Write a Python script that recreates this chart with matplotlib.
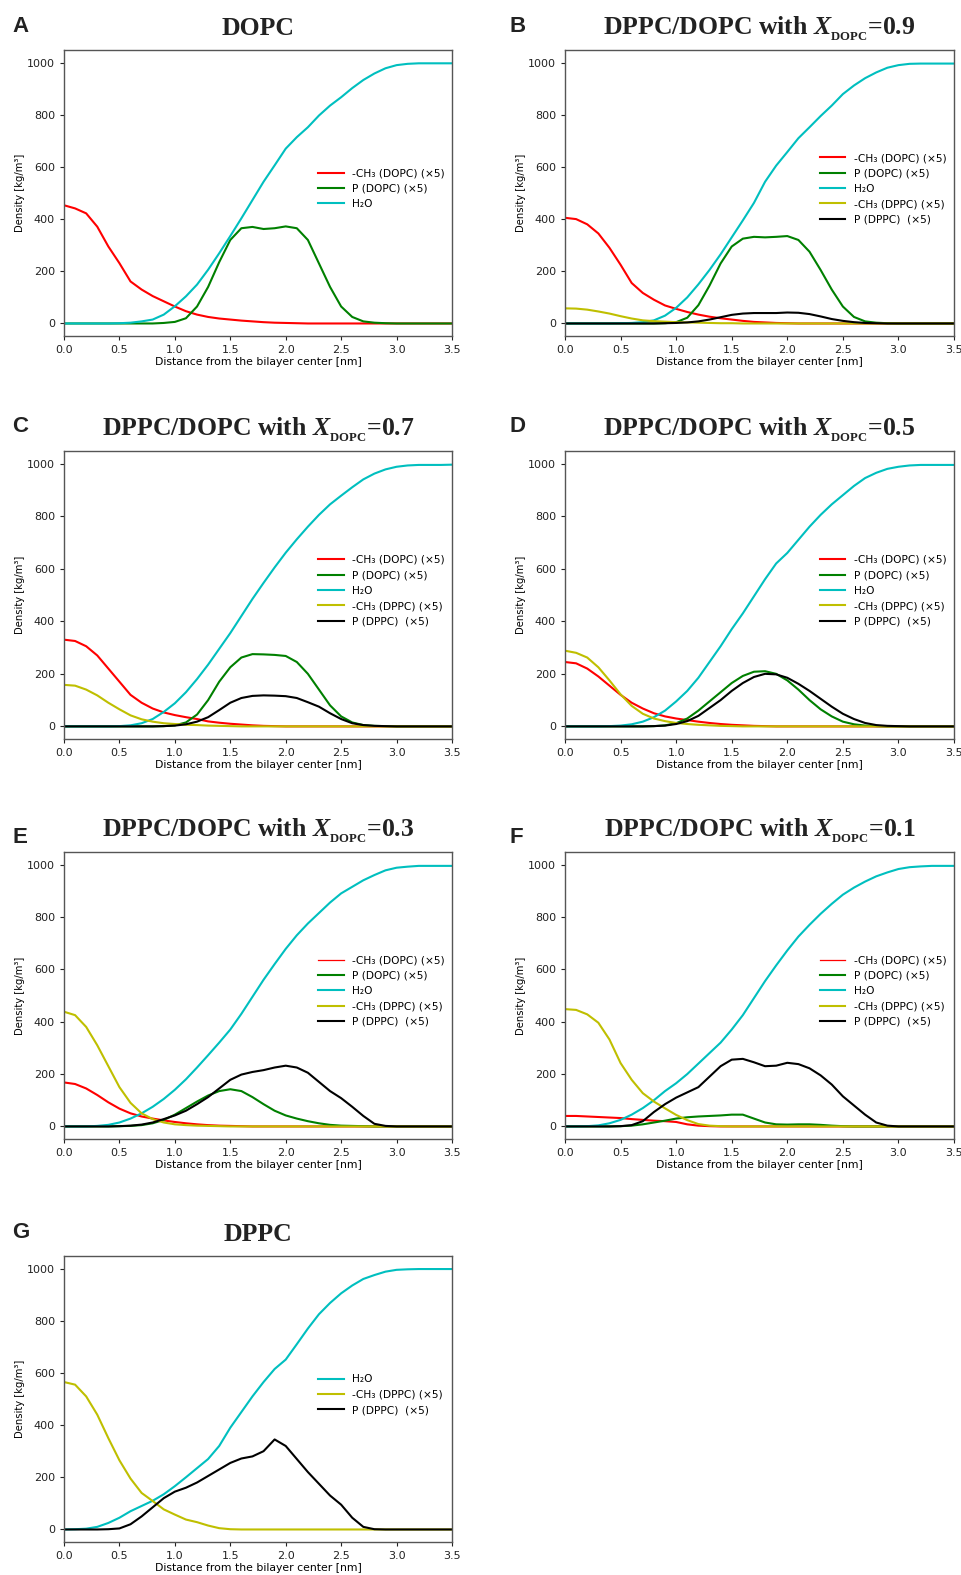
import matplotlib
matplotlib.use("Agg")
import matplotlib.pyplot as plt

plt.rcParams["mathtext.fontset"] = "custom"
plt.rcParams["mathtext.rm"] = "Liberation Serif:bold"
plt.rcParams["mathtext.it"] = "Liberation Serif:bold:italic"
plt.rcParams["mathtext.bf"] = "Liberation Serif:bold"

# distance from the bilayer centre [nm], shared sample grid
DIST = [0.0, 0.1, 0.2, 0.3, 0.4, 0.5, 0.6, 0.7, 0.8, 0.9,
        1.0, 1.1, 1.2, 1.3, 1.4, 1.5, 1.6, 1.7, 1.8, 1.9,
        2.0, 2.1, 2.2, 2.3, 2.4, 2.5, 2.6, 2.7, 2.8, 2.9,
        3.0, 3.1, 3.2, 3.3, 3.4, 3.5]

# ---- A: DOPC
A_ch3_dopc = [453, 441, 422, 371, 295, 231, 161, 130, 105, 85, 65, 47, 34, 25, 19, 15, 11, 8, 5, 3,
              2, 1, 0, 0, 0, 0, 0, 0, 0, 0, 0, 0, 0, 0, 0, 0]
A_p_dopc = [0, 0, 0, 0, 0, 0, 0, 0, 0, 2, 6, 20, 65, 140, 235, 320, 365, 370, 362, 365,
            372, 365, 320, 230, 140, 65, 25, 8, 3, 1, 0, 0, 0, 0, 0, 0]
A_h2o = [0, 0, 0, 0, 0, 1, 3, 8, 15, 34, 66, 104, 149, 206, 269, 335, 403, 473, 543, 606,
         670, 714, 752, 797, 835, 867, 902, 933, 958, 978, 990, 995, 997, 997, 997, 997]

# ---- B: X_DOPC = 0.9
B_ch3_dopc = [405, 400, 380, 345, 290, 225, 155, 117, 91, 69, 56, 44, 34, 26, 20, 15, 10, 6, 4, 2,
              1, 0, 0, 0, 0, 0, 0, 0, 0, 0, 0, 0, 0, 0, 0, 0]
B_p_dopc = [0, 0, 0, 0, 0, 0, 0, 0, 0, 1, 5, 22, 70, 145, 230, 295, 325, 332, 330, 332,
            335, 320, 275, 205, 130, 65, 25, 8, 3, 1, 0, 0, 0, 0, 0, 0]
B_h2o = [0, 0, 0, 0, 0, 1, 2, 5, 12, 30, 60, 100, 150, 205, 265, 330, 395, 462, 543, 605,
         657, 710, 752, 795, 835, 879, 912, 940, 962, 980, 990, 995, 996, 996, 996, 996]
B_ch3_dppc = [58, 57, 53, 46, 38, 28, 19, 12, 9, 7, 5, 4, 3, 2, 1, 1, 0, 0, 0, 0,
              0, 0, 0, 0, 0, 0, 0, 0, 0, 0, 0, 0, 0, 0, 0, 0]
B_p_dppc = [0, 0, 0, 0, 0, 0, 0, 0, 0, 1, 2, 4, 8, 15, 24, 33, 38, 40, 40, 40,
            42, 41, 36, 27, 17, 10, 5, 2, 1, 0, 0, 0, 0, 0, 0, 0]

# ---- C: X_DOPC = 0.7
C_ch3_dopc = [330, 325, 305, 270, 220, 170, 120, 90, 68, 53, 43, 35, 28, 19, 14, 10, 7, 4, 2, 1,
              0, 0, 0, 0, 0, 0, 0, 0, 0, 0, 0, 0, 0, 0, 0, 0]
C_p_dopc = [0, 0, 0, 0, 0, 0, 0, 0, 0, 1, 4, 15, 45, 100, 170, 225, 262, 275, 274, 272,
            268, 245, 200, 140, 80, 38, 15, 5, 2, 1, 0, 0, 0, 0, 0, 0]
C_h2o = [0, 0, 0, 0, 0, 1, 4, 12, 28, 55, 88, 130, 180, 235, 295, 355, 420, 485, 546, 605,
         661, 712, 760, 805, 845, 878, 910, 940, 962, 978, 988, 993, 995, 995, 995, 996]
C_ch3_dppc = [158, 155, 140, 118, 90, 65, 42, 27, 18, 12, 9, 6, 5, 3, 2, 1, 0, 0, 0, 0,
              0, 0, 0, 0, 0, 0, 0, 0, 0, 0, 0, 0, 0, 0, 0, 0]
C_p_dppc = [0, 0, 0, 0, 0, 0, 0, 0, 0, 1, 3, 8, 18, 35, 62, 90, 108, 116, 118, 117,
            115, 108, 92, 75, 50, 28, 12, 5, 2, 1, 0, 0, 0, 0, 0, 0]

# ---- D: X_DOPC = 0.5
D_ch3_dopc = [245, 240, 220, 190, 155, 120, 90, 68, 50, 38, 30, 24, 18, 13, 9, 6, 4, 2, 1, 0,
              0, 0, 0, 0, 0, 0, 0, 0, 0, 0, 0, 0, 0, 0, 0, 0]
D_p_dopc = [0, 0, 0, 0, 0, 0, 0, 0, 1, 4, 12, 30, 60, 95, 130, 165, 192, 208, 210, 200,
            175, 140, 100, 65, 38, 18, 8, 3, 1, 0, 0, 0, 0, 0, 0, 0]
D_h2o = [0, 0, 0, 0, 1, 3, 8, 18, 35, 60, 95, 135, 185, 245, 305, 370, 430, 495, 560, 620,
         660, 710, 760, 805, 845, 880, 915, 945, 965, 980, 988, 993, 995, 995, 995, 995]
D_ch3_dppc = [288, 280, 262, 225, 175, 122, 78, 48, 30, 20, 13, 9, 6, 4, 2, 1, 0, 0, 0, 0,
              0, 0, 0, 0, 0, 0, 0, 0, 0, 0, 0, 0, 0, 0, 0, 0]
D_p_dppc = [0, 0, 0, 0, 0, 0, 0, 0, 1, 3, 9, 20, 40, 70, 100, 135, 165, 188, 200, 198,
            185, 162, 135, 105, 75, 48, 28, 13, 5, 2, 1, 0, 0, 0, 0, 0]

# ---- E: X_DOPC = 0.3
E_ch3_dopc = [168, 162, 145, 120, 92, 68, 50, 38, 30, 23, 17, 12, 8, 5, 3, 2, 1, 0, 0, 0,
              0, 0, 0, 0, 0, 0, 0, 0, 0, 0, 0, 0, 0, 0, 0, 0]
E_p_dopc = [0, 0, 0, 0, 0, 1, 2, 5, 12, 25, 45, 70, 95, 118, 135, 142, 135, 112, 85, 60,
            42, 30, 20, 12, 6, 3, 2, 1, 0, 0, 0, 0, 0, 0, 0, 0]
E_h2o = [0, 0, 0, 2, 6, 15, 30, 50, 75, 105, 140, 180, 225, 272, 320, 370, 430, 495, 560, 620,
         678, 730, 775, 815, 855, 890, 915, 940, 960, 978, 988, 992, 995, 995, 995, 995]
E_ch3_dppc = [438, 425, 380, 310, 230, 150, 90, 50, 28, 15, 8, 5, 3, 2, 1, 0, 0, 0, 0, 0,
              0, 0, 0, 0, 0, 0, 0, 0, 0, 0, 0, 0, 0, 0, 0, 0]
E_p_dppc = [0, 0, 0, 0, 0, 1, 3, 7, 15, 28, 42, 60, 85, 112, 145, 178, 198, 208, 215, 225,
            232, 225, 205, 170, 135, 108, 75, 40, 10, 2, 0, 0, 0, 0, 0, 0]

# ---- F: X_DOPC = 0.1
F_ch3_dopc = [40, 40, 38, 36, 34, 32, 28, 25, 22, 20, 17, 8, 3, 1, 0, 0, 0, 0, 0, 0,
              0, 0, 0, 0, 0, 0, 0, 0, 0, 0, 0, 0, 0, 0, 0, 0]
F_p_dopc = [0, 0, 0, 0, 0, 1, 3, 8, 15, 22, 30, 35, 38, 40, 42, 45, 45, 30, 15, 8,
            7, 8, 8, 6, 3, 1, 0, 0, 0, 0, 0, 0, 0, 0, 0, 0]
F_h2o = [0, 0, 1, 4, 12, 25, 45, 70, 100, 135, 165, 200, 240, 280, 320, 370, 425, 490, 555, 615,
         672, 725, 770, 812, 850, 885, 912, 935, 955, 970, 983, 990, 993, 995, 995, 995]
F_ch3_dppc = [448, 445, 428, 396, 332, 242, 178, 127, 95, 69, 44, 24, 9, 3, 1, 0, 0, 0, 0, 0,
              0, 0, 0, 0, 0, 0, 0, 0, 0, 0, 0, 0, 0, 0, 0, 0]
F_p_dppc = [0, 0, 0, 0, 0, 1, 5, 20, 55, 85, 110, 130, 150, 190, 230, 255, 258, 245, 230, 232,
            243, 238, 222, 195, 160, 115, 80, 45, 15, 3, 0, 0, 0, 0, 0, 0]

# ---- G: DPPC
G_h2o = [0, 1, 3, 10, 25, 45, 70, 90, 110, 135, 166, 200, 235, 270, 320, 390, 450, 510, 565, 615,
         651, 710, 770, 825, 868, 905, 935, 960, 975, 988, 995, 997, 998, 998, 998, 998]
G_ch3_dppc = [565, 555, 510, 440, 350, 265, 195, 140, 109, 77, 57, 38, 28, 15, 5, 1, 0, 0, 0, 0,
              0, 0, 0, 0, 0, 0, 0, 0, 0, 0, 0, 0, 0, 0, 0, 0]
G_p_dppc = [0, 0, 0, 0, 1, 4, 20, 50, 85, 120, 145, 160, 180, 205, 230, 255, 272, 280, 300, 345,
            320, 270, 220, 175, 130, 95, 45, 10, 1, 0, 0, 0, 0, 0, 0, 0]

LBL = {
    "ch3_dopc": ("-CH\u2083 (DOPC) (\u00d75)", "r"),
    "p_dopc": ("P (DOPC) (\u00d75)", "g"),
    "h2o": ("H\u2082O", "c"),
    "ch3_dppc": ("-CH\u2083 (DPPC) (\u00d75)", "y"),
    "p_dppc": ("P (DPPC)  (\u00d75)", "k"),
}

MIX = r"DPPC/DOPC with $X_{{}_{\mathrm{DOPC}}}$="

panels = [
    ("A", "DOPC", {"ch3_dopc": A_ch3_dopc, "p_dopc": A_p_dopc, "h2o": A_h2o}),
    ("B", MIX + "0.9",
     {"ch3_dopc": B_ch3_dopc, "p_dopc": B_p_dopc, "h2o": B_h2o, "ch3_dppc": B_ch3_dppc, "p_dppc": B_p_dppc}),
    ("C", MIX + "0.7",
     {"ch3_dopc": C_ch3_dopc, "p_dopc": C_p_dopc, "h2o": C_h2o, "ch3_dppc": C_ch3_dppc, "p_dppc": C_p_dppc}),
    ("D", MIX + "0.5",
     {"ch3_dopc": D_ch3_dopc, "p_dopc": D_p_dopc, "h2o": D_h2o, "ch3_dppc": D_ch3_dppc, "p_dppc": D_p_dppc}),
    ("E", MIX + "0.3",
     {"ch3_dopc": E_ch3_dopc, "p_dopc": E_p_dopc, "h2o": E_h2o, "ch3_dppc": E_ch3_dppc, "p_dppc": E_p_dppc}),
    ("F", MIX + "0.1",
     {"ch3_dopc": F_ch3_dopc, "p_dopc": F_p_dopc, "h2o": F_h2o, "ch3_dppc": F_ch3_dppc, "p_dppc": F_p_dppc}),
    ("G", "DPPC", {"h2o": G_h2o, "ch3_dppc": G_ch3_dppc, "p_dppc": G_p_dppc}),
]

W, H = 962, 1575
fig = plt.figure(figsize=(W / 100, H / 100), dpi=100)

# axes boxes in pixels: (left, top, right, bottom)
boxes = [(64, 50, 452, 336), (565, 50, 954, 336),
         (64, 451, 452, 739), (565, 451, 954, 739),
         (64, 852, 452, 1139), (565, 852, 954, 1139),
         (64, 1256, 452, 1542)]
letter_pos = [(12, 27), (510, 27), (12, 427), (510, 427), (12, 837), (510, 837), (12, 1233)]

for (letter, title, series), (l, t, r, b), (lx, ly) in zip(panels, boxes, letter_pos):
    ax = fig.add_axes([l / W, 1 - b / H, (r - l) / W, (b - t) / H])
    for key, ys in series.items():
        label, col = LBL[key]
        ax.plot(DIST, ys, color=col, lw=1.5, label=label)
    ax.set_xlim(0, 3.5)
    ax.set_ylim(-48, 1048)
    ax.set_xticks([0.0, 0.5, 1.0, 1.5, 2.0, 2.5, 3.0, 3.5])
    ax.set_yticks([0, 200, 400, 600, 800, 1000])
    ax.tick_params(labelsize=8, length=3, width=0.8, colors="#222222")
    for sp in ax.spines.values():
        sp.set_color("#555555")
        sp.set_linewidth(1.0)
    ax.set_xlabel("Distance from the bilayer center [nm]", fontsize=7.8, labelpad=1.5)
    ax.set_ylabel("Density [kg/m\u00b3]", fontsize=7.2, labelpad=1.5)
    ax.set_title(title, fontsize=18.5, fontfamily="Liberation Serif", fontweight="bold",
                 pad=11, color="#222222")
    leg = ax.legend(loc="center left", bbox_to_anchor=(0.63, 0.515), frameon=False,
                    fontsize=7.7, handlelength=2.4, handletextpad=0.8, labelspacing=0.5)
    if letter in ("E", "F"):
        leg.get_lines()[0].set_linewidth(0.9)
    fig.text(lx / W, 1 - ly / H, letter, fontsize=16, fontweight="bold",
             fontfamily="Liberation Sans", va="center", ha="left", color="#222222")

fig.savefig("out.png", dpi=100)
